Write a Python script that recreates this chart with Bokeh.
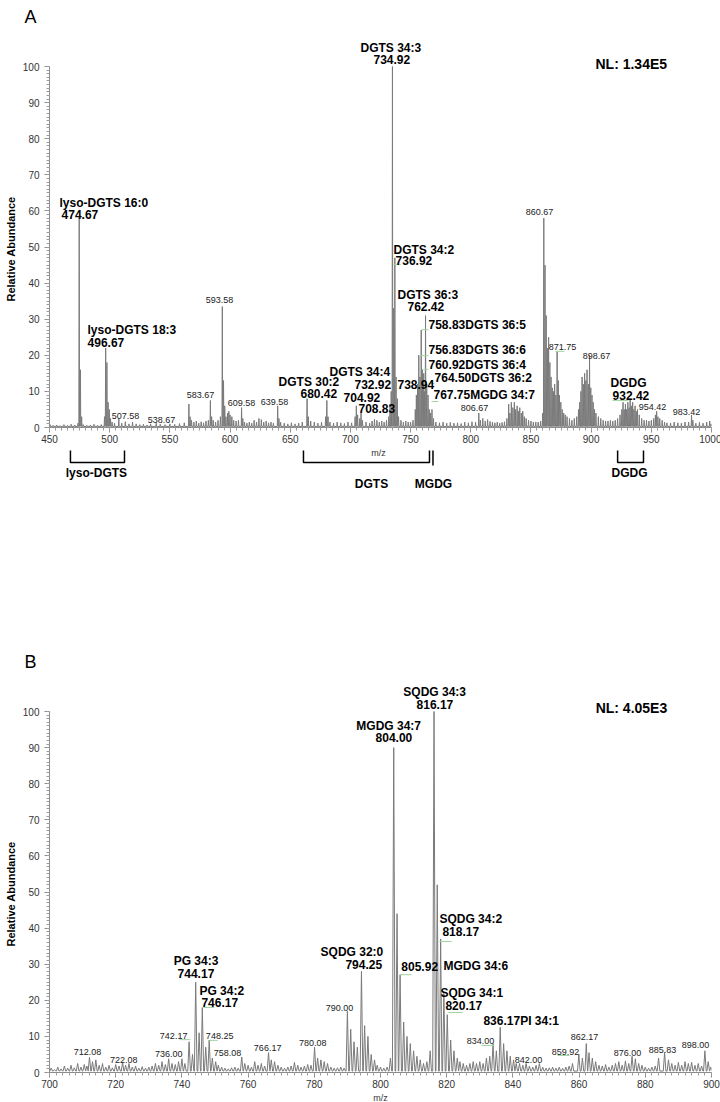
from bokeh.plotting import figure
from bokeh.models import Range1d, Title, SingleIntervalTicker, ColumnDataSource
from bokeh.layouts import column
from bokeh.embed import file_html
from bokeh.resources import INLINE
from bokeh.core.properties import value

FONT = "Liberation Sans"
TRACE = "#7a7a7a"
LEADER = "#9fd49f"

# ---------------- Panel A data (m/z, relative abundance) ----------------
a_mz = [450.5, 453, 456, 459, 462, 465, 468, 471, 473.7, 474.67, 475.67, 476.7, 478, 481, 484, 487, 490, 493,
        495.7, 496.67, 497.67, 498.67, 499.67, 500.7, 502, 504, 507.58, 510, 513, 516, 519, 522, 525, 528, 531, 534,
        538.67, 542, 546, 550, 554, 558, 562, 565.8, 566.8, 568, 570, 572, 574, 576, 578, 580, 582, 583.67, 584.7,
        586, 588, 590, 592, 593.58, 594.58, 595.6, 596.6, 598, 599, 600, 601.5, 603, 605, 607, 609.58, 610.6, 612,
        614, 616, 618, 620, 622, 624, 626, 628, 630, 632, 634, 636, 639.58, 640.6, 642, 645, 648, 651, 654, 657, 660,
        664, 665, 667, 670, 673, 676, 679.4, 680.42, 681.4, 683, 686, 689, 692, 695, 698, 701, 703.9, 704.92, 706,
        707.8, 708.83, 710, 713, 716, 718, 720, 722, 724, 726, 728, 730, 731.9, 732.92, 733.9, 734.92, 735.92, 736.92,
        737.92, 738.94, 740, 742, 744, 746, 748, 750, 752, 753.9, 754.8, 755.8, 756.83, 757.8, 758.83, 759.8, 760.92,
        761.6, 762.42, 763.4, 764.5, 765.5, 766.5, 767.75, 769, 771, 774, 777, 780, 783, 786, 789, 792, 795, 798, 801,
        804, 806.67, 808, 810, 812, 814, 816, 818, 820, 822, 824, 826, 828, 830, 831.5, 832.5, 833.7, 835, 836.2,
        837.3, 838.5, 839.6, 840.7, 842, 843.2, 844.5, 846, 848, 850, 852, 854, 856, 858, 859.7, 860.67, 861.67,
        862.67, 863.67, 864.67, 865.7, 866.7, 867.7, 868.7, 869.7, 870.7, 871.75, 872.7, 873.7, 874.8, 876, 877.2,
        878.5, 880, 882, 884, 886, 888, 889.5, 890.5, 891.5, 892.5, 893.5, 894.6, 895.6, 896.6, 897.7, 898.67, 899.7,
        900.7, 901.7, 902.8, 904, 906, 908, 910, 912, 914, 916, 918, 920, 922, 924, 925.5, 926.5, 927.5, 928.5, 929.5,
        930.5, 931.5, 932.42, 933.5, 934.5, 935.5, 936.5, 937.5, 938.5, 940, 942, 944, 946, 948, 950, 952, 953.4,
        954.42, 955.5, 957, 959, 961, 963, 966, 969, 972, 975, 978, 981, 983.42, 984.5, 987, 990, 993, 996, 998.5,
        999.6]
a_int = [0.8, 0.6, 0.7, 0.5, 0.8, 0.6, 0.9, 0.7, 1.2, 58, 16, 3, 0.8, 0.6, 0.7, 0.9, 0.6, 0.8,
         3, 22, 18, 7, 5, 2.5, 1.5, 1.2, 2.5, 1.2, 1.6, 1, 1.5, 1, 0.8, 0.9, 0.7, 1,
         1.2, 0.9, 0.8, 1, 0.9, 1.1, 1.3, 6.5, 3, 2, 1.5, 1.8, 1.2, 1.6, 1.3, 1.8, 2, 7.5, 3,
         2, 1.5, 2, 3, 33.5, 13, 6, 3, 4, 4.5, 3.5, 3, 2, 1.8, 2, 5.5, 2.5, 1.5,
         1.2, 1.5, 1.2, 2, 1.5, 2.5, 2.2, 1.5, 1.8, 1.3, 1.5, 1.2, 6, 2.5, 1.5, 1.2, 1, 1.3, 1, 1.2, 1.5,
         8, 3, 1.8, 1.5, 1.2, 1.5, 3, 7.5, 3, 1.5, 1.2, 1.5, 1.3, 1.1, 1.5, 1.3, 3, 6, 3.5,
         2.5, 4, 2, 1.5, 1.2, 1.8, 2.3, 2, 1.5, 1.8, 1.5, 2, 3, 6.5, 10, 100, 33, 47,
         14, 8, 3, 2, 1.5, 1.8, 1.5, 1.5, 2, 5, 9, 12, 20, 14, 27, 16, 15,
         10, 31, 12, 9, 5, 4, 5, 2.5, 1.5, 1.3, 1.5, 1.2, 1.4, 1.2, 1.3, 1.1, 1.5, 1.3, 1.6,
         1.5, 4, 2, 2.5, 1.8, 2.2, 1.7, 1.5, 1.3, 1.5, 1.2, 1.4, 1.6, 2.5, 6.5, 4, 7, 5.5, 7,
         5, 6, 4.5, 5.5, 4, 4.5, 3, 2.5, 2, 1.8, 1.5, 1.5, 1.5, 1.8, 4, 58, 45,
         31, 22, 25, 18, 14, 11, 10, 12, 9, 21, 13, 9, 7, 5, 4,
         3.5, 3, 2.5, 2, 2.5, 3, 5, 7, 10, 14, 12, 15, 13, 16, 12, 20, 11,
         9, 7, 5, 4, 3, 2.5, 2, 1.8, 1.8, 2, 1.8, 2, 2.5, 3.5, 5, 7, 5, 6.5, 5,
         7, 5.5, 8, 6, 7, 5, 6, 4.5, 5, 3.5, 2.5, 2, 2, 1.8, 2, 2.5, 3.5,
         4.5, 3, 2.5, 2, 1.5, 1.3, 1.2, 1.5, 1.3, 1.2, 1.5, 1.5, 3.5, 2, 1.2, 1.4, 1.2, 1.5, 1.8,
         1]

# annotated peaks, panel A
a_bold_text = ["lyso-DGTS 16:0", "474.67", "lyso-DGTS 18:3", "496.67", "DGTS 34:3", "734.92",
               "DGTS 34:2", "736.92", "DGTS 36:3", "762.42", "758.83DGTS 36:5", "756.83DGTS 36:6",
               "760.92DGTS 36:4", "764.50DGTS 36:2", "767.75MGDG 34:7", "DGTS 34:4", "732.92", "738.94",
               "704.92", "708.83", "DGTS 30:2", "680.42", "DGDG", "932.42"]
a_bold_x = [458.3, 460.0, 481.6, 481.6, 708.4, 719.2, 735.8, 737.5, 739.1, 747.4, 764.9, 764.9,
            764.9, 769.9, 769.0, 682.6, 703.4, 739.1, 694.3, 706.7, 640.3, 658.5, 916.1, 917.8]
a_bold_y = [62.3, 59.0, 27.1, 23.5, 105.0, 101.9, 49.3, 46.3, 36.6, 33.5, 28.5, 21.6,
            17.2, 13.6, 9.1, 15.5, 11.9, 11.9, 8.3, 5.3, 12.7, 9.4, 12.2, 8.9]
a_small_text = ["507.58", "538.67", "583.67", "593.58", "609.58", "639.58", "806.67", "860.67",
                "871.75", "898.67", "954.42", "983.42"]
a_small_x = [513.1, 543.1, 575.5, 591.2, 609.5, 636.9, 803.1, 857.1, 876.2, 904.5, 951.0, 979.2]
a_small_y = [3.3, 2.2, 8.9, 35.2, 6.9, 7.2, 5.5, 59.6, 22.4, 19.9, 5.8, 4.2]
# leader lines (label -> peak), panel A
a_lead_x0 = [735.8, 759.1, 757.4, 760.7, 764.9, 767.4, 917.8, 870.4]
a_lead_x1 = [742.0, 764.9, 764.9, 764.9, 769.9, 773.2, 931.1, 877.9]
a_lead_y = [45.2, 27.1, 19.9, 16.1, 12.2, 7.2, 7.5, 21.1]

# lipid-class brackets under panel A (m/z spans)
brk_names = ["lyso-DGTS", "DGTS", "DGDG"]
brk_lo = [467.4, 661.0, 922.0]
brk_hi = [512.3, 765.7, 943.5]
mgdg_mz = 768.6

# ---------------- Panel B data ----------------
b_mz = [700.5, 701.5, 702.5, 703.5, 704.5, 705.5, 706.5, 707.5, 708.5, 709.5, 710.5, 711.3, 712.08, 713, 714, 715,
        716, 717, 718, 719, 720, 721, 722.08, 723, 724, 725, 726, 727, 728, 729, 730, 731, 732, 733, 734, 735, 736,
        737, 738, 739, 740, 740.9, 742.17, 743.2, 744.17, 745.2, 746.17, 747.2, 748.25, 749.2, 750.2, 751, 752, 753,
        754, 755, 756, 757, 758.08, 759, 760, 761, 762, 763, 764, 765, 766.17, 767, 768, 769, 770, 771, 772, 773,
        774, 775, 776, 777, 778, 779, 780.08, 781, 782, 783, 784, 785, 786, 787, 788, 789, 790, 791, 792, 793,
        794.25, 795.2, 796.2, 797.2, 798.2, 799, 800, 801, 802, 803, 804, 805, 805.92, 807, 808, 809, 810, 811, 812,
        813, 814, 815, 816.17, 817.15, 818.17, 819.15, 820.17, 821.2, 822.2, 823.2, 824, 825, 826, 827, 828, 829,
        830, 831, 832, 833, 834, 835, 836.17, 837.2, 838.2, 839.2, 840.2, 841, 842, 843, 844, 845, 846, 847, 848,
        849, 850, 851, 852, 853, 854, 855, 856, 857, 858, 859.92, 861, 862.17, 863, 864, 865, 866, 867, 868, 869,
        870, 871, 872, 873, 874, 875, 876, 877, 878, 879, 880, 881, 882, 883, 884, 885.83, 887, 888, 889, 890, 891,
        892, 893, 894, 895, 896, 897, 898, 899, 899.8]
b_int = [1.2, 0.8, 1.5, 1, 1.8, 1.2, 2, 1.3, 2.5, 1.5, 2.2, 1.8, 4.2, 3, 3.5, 2,
         2.5, 1.5, 2, 1.3, 2.2, 1.8, 2.8, 2, 2.5, 1.5, 1.8, 1.2, 1.6, 1.2, 1.5, 1.8, 2.5, 2, 3, 2.2, 3.8,
         2.5, 2.2, 3, 3.8, 2.5, 8.5, 5, 25, 11, 18, 7, 9, 4, 3, 2, 1.5, 1.2,
         1, 1.3, 1.5, 1.2, 4.3, 2.5, 2, 1.5, 3, 2, 2.5, 1.8, 5.5, 3.5, 3, 2, 1.5, 1.2, 1.5, 1.8,
         2.8, 2, 1.5, 1.8, 2.2, 2, 7, 4, 3.5, 3, 2.5, 1.5, 1.2, 1.3, 1.5, 1.2, 17, 12, 8.5, 7,
         28, 13, 10, 5, 3.5, 2, 1.5, 1.2, 1.5, 4, 90, 44, 27, 14, 10, 8, 6, 4.5, 3.5,
         2.5, 3, 6, 100, 52, 37, 22, 16, 9, 6, 4, 3, 2.5, 2, 2.5, 3, 2.5,
         3, 2.5, 4, 4.5, 8, 6, 12.5, 8, 6, 4.5, 3.5, 2.5, 2.5, 2, 2.5, 1.8, 1.5, 2, 2.5,
         1.5, 1.2, 1.3, 1.5, 1.2, 1.5, 1.2, 1.5, 1.8, 2.5, 5, 4, 8, 5.5, 4, 3, 2, 1.8, 2.2, 1.5,
         2, 2.5, 3, 2, 3.2, 2.5, 4.5, 3.8, 2.5, 2, 1.5, 1.2, 1.5, 1.8, 4, 5.5, 3.5, 2.5, 2, 2.8, 2,
         3, 2.5, 2.8, 2, 2.5, 1.8, 6, 3, 1.5]

b_bold_text = ["SQDG 34:3", "816.17", "MGDG 34:7", "804.00", "PG 34:3", "744.17", "PG 34:2", "746.17",
               "SQDG 32:0", "794.25", "805.92", "MGDG 34:6", "SQDG 34:2", "818.17", "SQDG 34:1", "820.17",
               "836.17PI 34:1"]
b_bold_x = [806.9, 810.9, 792.7, 798.5, 737.5, 738.7, 745.3, 745.9, 781.9, 789.4, 806.3, 819.0, 817.8, 818.7,
            818.1, 819.6, 831.1]
b_bold_y = [105.3, 101.9, 96.1, 92.8, 31.0, 27.4, 22.7, 19.4, 33.5, 29.9, 29.4, 29.4, 42.4, 39.1, 21.9, 18.6, 14.4]
b_small_text = ["712.08", "722.08", "736.00", "742.17", "748.25", "758.08", "766.17", "780.08", "790.00",
                "834.00", "842.00", "859.92", "862.17", "876.00", "885.83", "898.00"]
b_small_x = [711.5, 722.4, 736.0, 737.5, 751.4, 753.8, 765.9, 779.5, 787.6, 830.2, 844.7, 855.9, 861.6, 874.6,
             885.2, 895.2]
b_small_y = [5.8, 3.6, 5.0, 10.0, 10.2, 5.5, 6.9, 8.3, 18.0, 8.6, 3.6, 5.8, 9.7, 5.5, 6.1, 7.5]
b_lead_x0 = [739.3, 748.3, 746.5, 805.7, 817.8, 820.5, 830.5, 853.5]
b_lead_x1 = [742.6, 750.8, 749.8, 809.4, 821.5, 824.8, 834.4, 857.1]
b_lead_y = [9.1, 8.9, 18.0, 27.1, 36.3, 16.6, 7.5, 4.7]


def profile(mz, inten, w, base):
    xs, ys = [], []
    for m, h in sorted(zip(mz, inten)):
        xs += [m - w, m, m + w]
        ys += [base, h, base]
    return xs, ys


def panel_title(txt):
    return Title(text=txt, align="left", offset=-25, standoff=9, text_font=FONT, text_font_size="18px",
                 text_font_style="normal", text_color="black")


def y_title():
    return Title(text="Relative Abundance", align="left", offset=126, standoff=5, text_font=FONT,
                 text_font_size="11px", text_font_style="bold", text_color="black")


def style_axes(p, xlo, xhi, xstep, xlabel):
    p.outline_line_color = None
    p.grid.visible = False
    p.background_fill_color = "white"
    p.border_fill_color = "white"
    for ax in (p.xaxis[0], p.yaxis[0]):
        ax.axis_line_color = "#8c8c8c"
        ax.major_tick_line_color = "#8c8c8c"
        ax.minor_tick_line_color = "#9c9c9c"
        ax.major_tick_in = 0
        ax.minor_tick_in = 0
        ax.major_tick_out = 5
        ax.minor_tick_out = 3
        ax.major_label_text_font = FONT
        ax.major_label_text_font_size = "10px"
        ax.major_label_text_color = "#333333"
    p.yaxis.ticker = SingleIntervalTicker(interval=10, num_minor_ticks=10)
    p.yaxis.bounds = (0, 100)
    p.yaxis.major_label_standoff = 5
    p.add_layout(y_title(), "left")
    p.xaxis.ticker = SingleIntervalTicker(interval=xstep, num_minor_ticks=10)
    p.xaxis.bounds = (xlo, xhi)
    p.xaxis.major_label_standoff = 2
    if xlabel:
        p.xaxis.axis_label = "m/z"
        p.xaxis.axis_label_text_font = FONT
        p.xaxis.axis_label_text_font_size = "9px"
        p.xaxis.axis_label_text_font_style = "normal"
        p.xaxis.axis_label_text_color = "#333333"
        p.xaxis.axis_label_standoff = 2


def add_texts(p, texts, xs, ys, size, bold, align):
    src = ColumnDataSource(dict(x=xs, y=ys, t=texts))
    p.text(x="x", y="y", text="t", source=src, text_font=value(FONT), text_font_size=size,
           text_font_style="bold" if bold else "normal", text_align=align, text_baseline="middle",
           text_color="black" if bold else "#222222")


# ---------------- Panel A ----------------
pa = figure(x_range=Range1d(450, 1000), y_range=Range1d(0, 109.7), frame_width=662, frame_height=396,
            min_border_left=48, min_border_right=10, min_border_top=30, min_border_bottom=22,
            toolbar_location=None, tools="", output_backend="svg", title=panel_title("A"))
style_axes(pa, 450, 1000, 50, False)
ax_, ay_ = profile(a_mz, a_int, 0.3, 0.3)
pa.line(ax_, ay_, line_color=TRACE, line_width=1)
pa.segment(x0=a_lead_x0, y0=a_lead_y, x1=a_lead_x1, y1=a_lead_y, line_color=LEADER, line_width=1)
add_texts(pa, a_bold_text, a_bold_x, a_bold_y, "12px", True, "left")
add_texts(pa, a_small_text, a_small_x, a_small_y, "9px", False, "center")
pa.text(x=[903.6], y=[100.8], text=["NL: 1.34E5"], text_font=value(FONT), text_font_size="14px",
        text_font_style="bold", text_align="left", text_baseline="middle", text_color="black")

# ---------------- bracket strip under panel A (y in pixels from page top) ----------------
pbr = figure(x_range=pa.x_range, y_range=Range1d(644, 448), frame_width=662, frame_height=196,
             min_border_left=48, min_border_right=10, min_border_top=0, min_border_bottom=0,
             x_axis_location=None, y_axis_location=None, toolbar_location=None, tools="",
             output_backend="svg")
pbr.outline_line_color = None
pbr.grid.visible = False
br_xs = [[lo, lo, hi, hi] for lo, hi in zip(brk_lo, brk_hi)] + [[mgdg_mz, mgdg_mz]]
br_ys = [[449, 461, 461, 449] for _ in brk_lo] + [[449, 464]]
pbr.multi_line(br_xs, br_ys, line_color="black", line_width=1.5)
pbr.text(x=[489.0, 717.5, 931.9, 769.0], y=[471, 482, 471, 482], text=brk_names + ["MGDG"],
         text_font=value(FONT), text_font_size="12px", text_font_style="bold", text_align="center",
         text_baseline="middle", text_color="black")
pbr.text(x=[723.3], y=[451], text=["m/z"], text_font=value(FONT), text_font_size="9px",
         text_align="center", text_baseline="middle", text_color="#333333")

# ---------------- Panel B ----------------
pb = figure(x_range=Range1d(700, 900), y_range=Range1d(0, 109.7), frame_width=662, frame_height=396,
            min_border_left=48, min_border_right=10, min_border_top=30, min_border_bottom=0,
            toolbar_location=None, tools="", output_backend="svg", title=panel_title("B"))
style_axes(pb, 700, 900, 20, True)
bx_, by_ = profile(b_mz, b_int, 0.4, 0.4)
pb.line(bx_, by_, line_color=TRACE, line_width=1)
pb.segment(x0=b_lead_x0, y0=b_lead_y, x1=b_lead_x1, y1=b_lead_y, line_color=LEADER, line_width=1)
add_texts(pb, b_bold_text, b_bold_x, b_bold_y, "12px", True, "left")
add_texts(pb, b_small_text, b_small_x, b_small_y, "9px", False, "center")
pb.text(x=[865.0], y=[101.1], text=["NL: 4.05E3"], text_font=value(FONT), text_font_size="14px",
        text_font_style="bold", text_align="left", text_baseline="middle", text_color="black")

layout = column(pa, pbr, pb)
open("out.html", "w").write(file_html(layout, INLINE))
